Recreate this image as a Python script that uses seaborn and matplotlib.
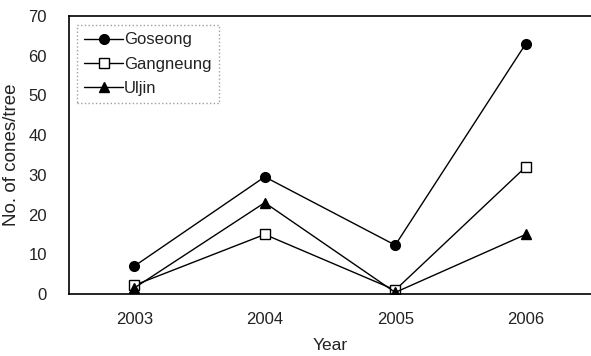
import matplotlib
matplotlib.use("Agg")
import matplotlib.pyplot as plt
from matplotlib.lines import Line2D
import seaborn as sns
import pandas as pd

years = ["2003", "2004", "2005", "2006"]
goseong = [7.0, 29.5, 12.3, 63.0]
gangneung = [2.2, 15.0, 1.0, 32.0]
uljin = [1.5, 23.0, 0.4, 15.0]
sites = ["Goseong", "Gangneung", "Uljin"]

df = pd.DataFrame({
    "Year": years * 3,
    "Cones": goseong + gangneung + uljin,
    "Site": [s for s in sites for _ in years],
})

sns.set_theme(style="white")
plt.rcParams["font.family"] = ["Liberation Sans", "DejaVu Sans"]

fig = plt.figure(figsize=(5.91, 3.56), dpi=100)
ax = fig.add_axes([69 / 591, 1 - 294 / 356, 1 - 69 / 591, (294 - 16) / 356])

sns.lineplot(
    data=df, x="Year", y="Cones", hue="Site", style="Site",
    palette=["black"] * 3, markers=["o", "s", "^"], dashes=False,
    linewidth=1.0, markersize=7, ax=ax, legend=False, sort=False,
)
for ln in ax.lines:
    ln.set_markeredgecolor("black")
    ln.set_markeredgewidth(1.0)
# hollow square markers for Gangneung
ax.lines[1].set_markerfacecolor("white")
ax.lines[1].set_markersize(6.5)

text_color = "#222222"
ax.set_xlim(-0.5, 3.5)
ax.set_ylim(0, 70)
ax.set_yticks(range(0, 71, 10))
ax.tick_params(axis="both", labelsize=12, colors=text_color, length=0)
ax.tick_params(axis="x", pad=13)
ax.tick_params(axis="y", pad=16)
ax.set_xlabel("Year", fontsize=12.5, color=text_color, labelpad=8)
ax.set_ylabel("No. of cones/tree", fontsize=13.5, color=text_color, labelpad=6)

for side in ["left", "bottom", "top"]:
    ax.spines[side].set_color("black")
    ax.spines[side].set_linewidth(1.2)
ax.spines["right"].set_visible(False)

handles = []
for ln, name in zip(ax.lines[:3], sites):
    handles.append(Line2D([], [], color="black", lw=1.0, marker=ln.get_marker(),
                          markersize=ln.get_markersize(),
                          markerfacecolor=ln.get_markerfacecolor(),
                          markeredgecolor="black", label=name))
leg = ax.legend(handles=handles, loc="upper left", bbox_to_anchor=(0.0153, 0.968),
                fontsize=12, frameon=True, fancybox=False, handlelength=2.3,
                handletextpad=0.05, borderpad=0.45, labelspacing=0.55,
                borderaxespad=0.0)
leg.get_frame().set_edgecolor("#888888")
leg.get_frame().set_linestyle(":")
leg.get_frame().set_linewidth(1.0)
for t in leg.get_texts():
    t.set_color(text_color)

fig.savefig("out.png", dpi=100)
